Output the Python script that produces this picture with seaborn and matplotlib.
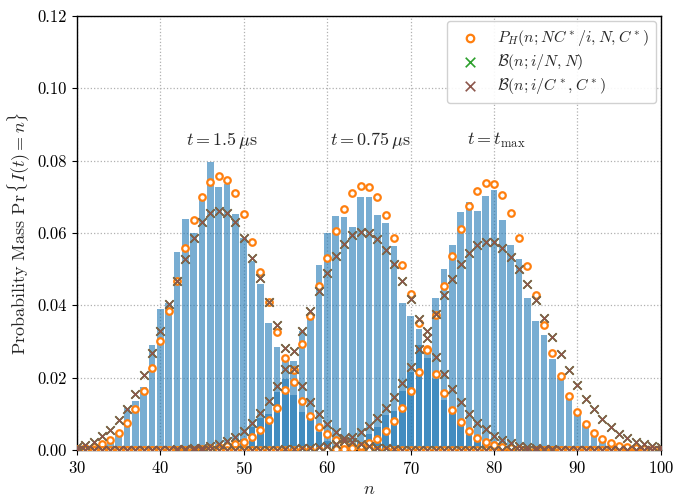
import numpy as np
import pandas as pd
import matplotlib
matplotlib.use("Agg")
import matplotlib.pyplot as plt
import seaborn as sns

# -----------------------------
# Data, n = 30 ... 100
# -----------------------------

n_values = list(range(30, 101))

# histograms (empirical pmf) for the three times
hist_t15 = [
    0.0, 0.0002, 0.0005, 0.0009, 0.0028, 0.0050, 0.0116, 0.0135, 0.0175, 0.0290,
    0.0390, 0.0406, 0.0546, 0.0638, 0.0600, 0.0698, 0.0795, 0.0726, 0.0735, 0.0652,
    0.0585, 0.0523, 0.0458, 0.0352, 0.0285, 0.0246, 0.0152, 0.0106, 0.0089, 0.0050,
    0.0024, 0.0012, 0.0005, 0.0, 0.0, 0.0, 0.0, 0.0, 0.0, 0.0,
    0.0, 0.0, 0.0, 0.0, 0.0, 0.0, 0.0, 0.0, 0.0, 0.0,
    0.0, 0.0, 0.0, 0.0, 0.0, 0.0, 0.0, 0.0, 0.0, 0.0,
    0.0, 0.0, 0.0, 0.0, 0.0, 0.0, 0.0, 0.0, 0.0, 0.0,
    0.0,
]
hist_t075 = [
    0.0, 0.0, 0.0, 0.0, 0.0, 0.0, 0.0, 0.0, 0.0, 0.0,
    0.0, 0.0, 0.0, 0.0, 0.0, 0.0, 0.0, 0.0, 0.0008, 0.0015,
    0.0030, 0.0062, 0.0089, 0.0099, 0.0159, 0.0197, 0.0246, 0.0330, 0.0370, 0.0510,
    0.0600, 0.0647, 0.0644, 0.0617, 0.0698, 0.0700, 0.0650, 0.0626, 0.0564, 0.0405,
    0.0369, 0.0335, 0.0254, 0.0195, 0.0137, 0.0105, 0.0075, 0.0043, 0.0033, 0.0020,
    0.0012, 0.0005, 0.0, 0.0, 0.0, 0.0, 0.0, 0.0, 0.0, 0.0,
    0.0, 0.0, 0.0, 0.0, 0.0, 0.0, 0.0, 0.0, 0.0, 0.0,
    0.0,
]
hist_tmax = [
    0.0, 0.0, 0.0, 0.0, 0.0, 0.0, 0.0, 0.0, 0.0, 0.0,
    0.0, 0.0, 0.0, 0.0, 0.0, 0.0, 0.0, 0.0, 0.0, 0.0,
    0.0, 0.0, 0.0, 0.0, 0.0, 0.0, 0.0, 0.0, 0.0, 0.0,
    0.0, 0.0, 0.0005, 0.0010, 0.0022, 0.0043, 0.0063, 0.0096, 0.0107, 0.0163,
    0.0214, 0.0291, 0.0279, 0.0420, 0.0500, 0.0566, 0.0658, 0.0684, 0.0661, 0.0702,
    0.0719, 0.0636, 0.0566, 0.0529, 0.0421, 0.0357, 0.0318, 0.0251, 0.0200, 0.0140,
    0.0105, 0.0070, 0.0047, 0.0023, 0.0012, 0.0006, 0.0, 0.0, 0.0, 0.0,
    0.0,
]

# hypergeometric P_H(n; NC*/i, N, C*)
hyper_t15 = [
    0.0002, 0.0005, 0.0009, 0.0016, 0.0028, 0.0047, 0.0073, 0.0112, 0.0163, 0.0225,
    0.0300, 0.0383, 0.0467, 0.0558, 0.0636, 0.0700, 0.0741, 0.0757, 0.0746, 0.0710,
    0.0652, 0.0576, 0.0493, 0.0408, 0.0325, 0.0254, 0.0187, 0.0135, 0.0094, 0.0063,
    0.0043, 0.0026, 0.0017, 0.0010, 0.0006, 0.0003, 0.0001, 0.0001, 0.0, 0.0,
    0.0, 0.0, 0.0, 0.0, 0.0, 0.0, 0.0, 0.0, 0.0, 0.0,
    0.0, 0.0, 0.0, 0.0, 0.0, 0.0, 0.0, 0.0, 0.0, 0.0,
    0.0, 0.0, 0.0, 0.0, 0.0, 0.0, 0.0, 0.0, 0.0, 0.0,
    0.0,
]
hyper_t075 = [
    0.0, 0.0, 0.0, 0.0, 0.0, 0.0, 0.0, 0.0, 0.0, 0.0,
    0.0, 0.0, 0.0, 0.0, 0.0, 0.0003, 0.0005, 0.0008, 0.0011, 0.0016,
    0.0022, 0.0036, 0.0054, 0.0082, 0.0117, 0.0165, 0.0220, 0.0293, 0.0369, 0.0452,
    0.0530, 0.0605, 0.0666, 0.0709, 0.0730, 0.0726, 0.0698, 0.0650, 0.0586, 0.0510,
    0.0430, 0.0350, 0.0280, 0.0210, 0.0156, 0.0110, 0.0077, 0.0052, 0.0033, 0.0022,
    0.0014, 0.0009, 0.0005, 0.0003, 0.0, 0.0, 0.0, 0.0, 0.0, 0.0,
    0.0, 0.0, 0.0, 0.0, 0.0, 0.0, 0.0, 0.0, 0.0, 0.0,
    0.0,
]
hyper_tmax = [
    0.0, 0.0, 0.0, 0.0, 0.0, 0.0, 0.0, 0.0, 0.0, 0.0,
    0.0, 0.0, 0.0, 0.0, 0.0, 0.0, 0.0, 0.0, 0.0, 0.0,
    0.0, 0.0, 0.0, 0.0, 0.0, 0.0, 0.0, 0.0, 0.0, 0.0,
    0.0001, 0.0002, 0.0003, 0.0006, 0.0010, 0.0018, 0.0031, 0.0052, 0.0080, 0.0115,
    0.0163, 0.0215, 0.0276, 0.0372, 0.0453, 0.0535, 0.0611, 0.0673, 0.0716, 0.0738,
    0.0735, 0.0705, 0.0655, 0.0587, 0.0509, 0.0428, 0.0345, 0.0269, 0.0203, 0.0148,
    0.0105, 0.0071, 0.0046, 0.0030, 0.0018, 0.0012, 0.0007, 0.0004, 0.0002, 0.0001,
    0.0,
]

# binomial B(n; i/C*, C*)
binom_t15 = [
    0.0009, 0.0014, 0.0022, 0.0037, 0.0056, 0.0082, 0.0112, 0.0155, 0.0207, 0.0267,
    0.0330, 0.0403, 0.0467, 0.0529, 0.0585, 0.0629, 0.0654, 0.0661, 0.0654, 0.0629,
    0.0585, 0.0530, 0.0474, 0.0408, 0.0344, 0.0283, 0.0223, 0.0177, 0.0131, 0.0100,
    0.0072, 0.0050, 0.0033, 0.0022, 0.0015, 0.0010, 0.0006, 0.0004, 0.0002, 0.0001,
    0.0, 0.0, 0.0, 0.0, 0.0, 0.0, 0.0, 0.0, 0.0, 0.0,
    0.0, 0.0, 0.0, 0.0, 0.0, 0.0, 0.0, 0.0, 0.0, 0.0,
    0.0, 0.0, 0.0, 0.0, 0.0, 0.0, 0.0, 0.0, 0.0, 0.0,
    0.0,
]
binom_t075 = [
    0.0, 0.0, 0.0, 0.0, 0.0, 0.0, 0.0, 0.0, 0.0, 0.0,
    0.0001, 0.0001, 0.0002, 0.0003, 0.0004, 0.0006, 0.0010, 0.0016, 0.0024, 0.0036,
    0.0053, 0.0075, 0.0102, 0.0136, 0.0177, 0.0223, 0.0272, 0.0328, 0.0383, 0.0440,
    0.0490, 0.0535, 0.0570, 0.0594, 0.0603, 0.0600, 0.0584, 0.0554, 0.0515, 0.0467,
    0.0418, 0.0361, 0.0310, 0.0256, 0.0209, 0.0168, 0.0131, 0.0098, 0.0075, 0.0057,
    0.0039, 0.0027, 0.0018, 0.0012, 0.0008, 0.0005, 0.0003, 0.0002, 0.0001, 0.0001,
    0.0, 0.0, 0.0, 0.0, 0.0, 0.0, 0.0, 0.0, 0.0, 0.0,
    0.0,
]
binom_tmax = [
    0.0, 0.0, 0.0, 0.0, 0.0, 0.0, 0.0, 0.0, 0.0, 0.0,
    0.0, 0.0, 0.0, 0.0, 0.0, 0.0, 0.0, 0.0, 0.0, 0.0,
    0.0, 0.0, 0.0, 0.0, 0.0001, 0.0002, 0.0003, 0.0004, 0.0005, 0.0007,
    0.0011, 0.0017, 0.0025, 0.0036, 0.0050, 0.0066, 0.0089, 0.0115, 0.0147, 0.0184,
    0.0230, 0.0279, 0.0328, 0.0376, 0.0429, 0.0473, 0.0513, 0.0545, 0.0566, 0.0576,
    0.0576, 0.0558, 0.0534, 0.0500, 0.0458, 0.0414, 0.0364, 0.0313, 0.0266, 0.0220,
    0.0180, 0.0141, 0.0112, 0.0086, 0.0063, 0.0045, 0.0033, 0.0023, 0.0016, 0.0012,
    0.0009,
]

# binomial B(n; i/N, N) lies under the B(n; i/C*, C*) marks in the picture
binomN_t15 = binom_t15
binomN_t075 = binom_t075
binomN_tmax = binom_tmax

time_labels = [r"$t = 1.5\,\mu$s", r"$t = 0.75\,\mu$s", r"$t = t_{\max}$"]
label_n = [47.4, 65.2, 80.3]
label_y = [0.0855, 0.0855, 0.0855]

legend_labels = [
    r"$P_H(n;NC^*/i,N,C^*)$",
    r"$\mathcal{B}(n;i/N,N)$",
    r"$\mathcal{B}(n;i/C^*,C^*)$",
]

hists = [hist_t15, hist_t075, hist_tmax]
hypers = [hyper_t15, hyper_t075, hyper_tmax]
binoms = [binom_t15, binom_t075, binom_tmax]
binomsN = [binomN_t15, binomN_t075, binomN_tmax]

# -----------------------------
# Style
# -----------------------------

sns.set_style("ticks")
plt.rcParams["font.family"] = "serif"
plt.rcParams["font.serif"] = ["cmr10", "DejaVu Serif"]
plt.rcParams["mathtext.fontset"] = "cm"
plt.rcParams["axes.formatter.use_mathtext"] = True
plt.rcParams["axes.unicode_minus"] = False

fig = plt.figure(figsize=(6.75, 4.96), dpi=100)
ax = fig.add_axes([0.114, 0.093, 0.865, 0.875])

# -----------------------------
# Plot
# -----------------------------

for k in range(3):
    df = pd.DataFrame({"n": n_values, "p": hists[k]})
    sns.histplot(
        data=df, x="n", weights="p", discrete=True, shrink=0.8,
        color="#1f77b4", alpha=0.6, linewidth=0, ax=ax,
    )

for k in range(3):
    df = pd.DataFrame({"n": n_values, "h": hypers[k], "bN": binomsN[k], "bC": binoms[k]})
    sns.scatterplot(
        data=df, x="n", y="h", marker="o", s=22, facecolor="white",
        edgecolor="#ff7f0e", linewidth=1.6, zorder=3, ax=ax,
        label=legend_labels[0] if k == 0 else None, legend=False,
    )
    sns.scatterplot(
        data=df, x="n", y="bN", marker="x", s=36, color="#2ca02c",
        linewidth=1.2, zorder=4, ax=ax,
        label=legend_labels[1] if k == 0 else None, legend=False,
    )
    sns.scatterplot(
        data=df, x="n", y="bC", marker="x", s=36, color="#8c564b",
        linewidth=1.2, zorder=5, ax=ax,
        label=legend_labels[2] if k == 0 else None, legend=False,
    )

for k in range(3):
    ax.text(label_n[k], label_y[k], time_labels[k], ha="center", va="center", fontsize=13)

ax.set_xlim(30, 100)
ax.set_ylim(0, 0.12)
ax.set_xticks(range(30, 101, 10))
ax.set_yticks(np.arange(0, 0.121, 0.02))
ax.set_yticklabels(["%.2f" % v for v in np.arange(0, 0.121, 0.02)])
ax.set_xlabel(r"$n$", fontsize=13)
ax.set_ylabel(r"Probability Mass $\Pr\{I(t) = n\}$", fontsize=13)
ax.tick_params(labelsize=12, direction="out", length=3.5, width=0.8, colors="black")
ax.grid(True, linestyle=":", color="#b0b0b0", linewidth=0.9)

for side in ["left", "bottom", "right", "top"]:
    ax.spines[side].set_color("black")
    ax.spines[side].set_linewidth(1.0)

ax.legend(loc="upper right", fontsize=11.5, frameon=True, framealpha=0.9,
          edgecolor="#cccccc", handletextpad=0.7, labelspacing=0.25,
          borderaxespad=0.3, borderpad=0.45, markerscale=1.15)

plt.savefig("out.png", dpi=100)
